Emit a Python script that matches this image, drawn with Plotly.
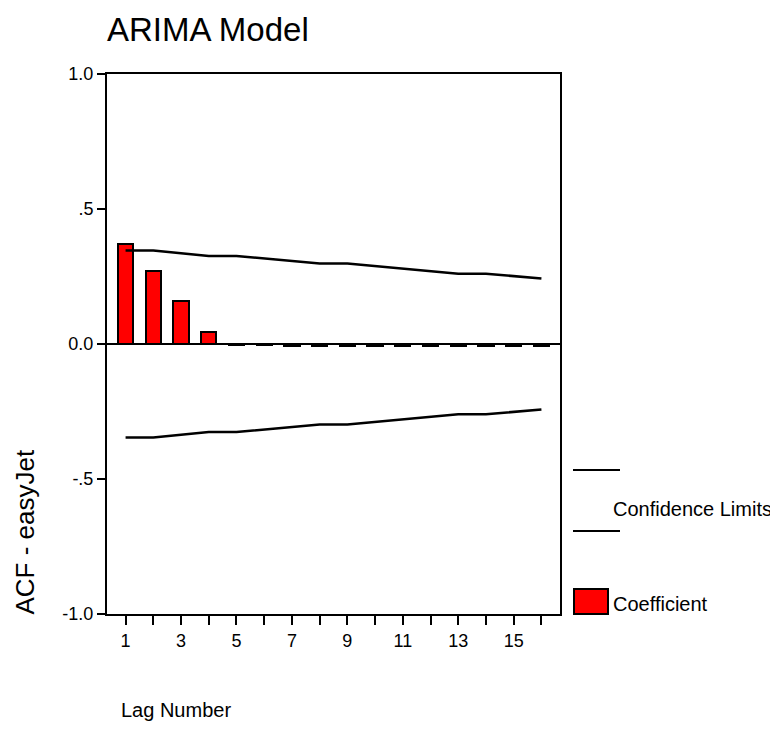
import plotly.graph_objects as go

lags = list(range(1, 17))
acf = [0.372, 0.269, 0.159, 0.043, -0.002, -0.002, -0.008, -0.008,
       -0.008, -0.008, -0.008, -0.008, -0.008, -0.008, -0.008, -0.008]
upper = [0.346, 0.346, 0.336, 0.326, 0.326, 0.317, 0.307, 0.298,
         0.298, 0.289, 0.279, 0.270, 0.260, 0.260, 0.252, 0.243]
lower = [-v for v in upper]
xtick_vals = lags
xtick_text = [str(v) if v % 2 == 1 else "" for v in lags]
ytick_vals = [-1.0, -0.5, 0.0, 0.5, 1.0]
ytick_text = ["-1.0", "-.5", "0.0", ".5", "1.0"]

FONT = "Liberation Sans, Arial, sans-serif"

# page offset of the figure (default body margin)
OFF = 8
# plot area in page pixels
L, R, T, B = 107, 560, 74, 614
PW, PH = 778, 729
W, H = PW - OFF, PH - OFF


def px(x):
    return (x - L) / (R - L)


def py(y):
    return (B - y) / (B - T)


fig = go.Figure()
fig.add_trace(go.Bar(x=lags, y=acf, width=0.55,
                     marker=dict(color="#ff0000", line=dict(color="black", width=2)),
                     showlegend=False))
fig.add_trace(go.Scatter(x=lags, y=upper, mode="lines",
                         line=dict(color="black", width=2.5), showlegend=False))
fig.add_trace(go.Scatter(x=lags, y=lower, mode="lines",
                         line=dict(color="black", width=2.5), showlegend=False))

shapes = [
    dict(type="line", xref="paper", yref="paper", x0=px(573), x1=px(620), y0=py(470), y1=py(470),
         line=dict(color="black", width=2)),
    dict(type="line", xref="paper", yref="paper", x0=px(573), x1=px(620), y0=py(531), y1=py(531),
         line=dict(color="black", width=2)),
    dict(type="rect", xref="paper", yref="paper", x0=px(574), x1=px(608), y0=py(614), y1=py(589),
         fillcolor="#ff0000", line=dict(color="black", width=2)),
]

annotations = [
    dict(text="Confidence Limits", xref="paper", yref="paper", x=px(611), y=py(509),
         xanchor="left", yanchor="middle", showarrow=False,
         font=dict(family=FONT, size=20, color="black")),
    dict(text="Coefficient", xref="paper", yref="paper", x=px(611), y=py(604),
         xanchor="left", yanchor="middle", showarrow=False,
         font=dict(family=FONT, size=20, color="black")),
    dict(text="ACF - easyJet", xref="paper", yref="paper", x=px(24), y=py(617),
         xanchor="center", yanchor="bottom", textangle=-90, showarrow=False,
         font=dict(family=FONT, size=26, color="black")),
    dict(text="Lag Number", xref="paper", yref="paper", x=px(119), y=py(710),
         xanchor="left", yanchor="middle", showarrow=False,
         font=dict(family=FONT, size=20, color="black")),
]

fig.update_layout(
    width=W, height=H,
    margin=dict(l=L - OFF, r=PW - R, t=T - OFF, b=PH - B),
    paper_bgcolor="white", plot_bgcolor="white",
    title=dict(text="ARIMA Model", x=0, xref="paper", xanchor="left",
               y=1 - (29 - OFF) / H, yref="container", yanchor="middle",
               font=dict(family=FONT, size=33, color="black")),
    font=dict(family=FONT, color="black"),
    shapes=shapes, annotations=annotations,
    bargap=0,
)
fig.update_xaxes(range=[0.33, 16.67], tickvals=xtick_vals, ticktext=xtick_text,
                 ticks="outside", ticklen=9, tickwidth=2, tickcolor="black",
                 showline=True, mirror=True, linecolor="black", linewidth=2,
                 showgrid=False, zeroline=False, tickfont=dict(size=18, family=FONT))
fig.update_yaxes(range=[-1, 1], tickvals=ytick_vals, ticktext=ytick_text,
                 ticks="outside", ticklen=8, tickwidth=2, tickcolor="black",
                 showline=True, mirror=True, linecolor="black", linewidth=2,
                 showgrid=False, zeroline=True, zerolinecolor="black", zerolinewidth=2,
                 tickfont=dict(size=18, family=FONT))

fig.write_html("out.html")
